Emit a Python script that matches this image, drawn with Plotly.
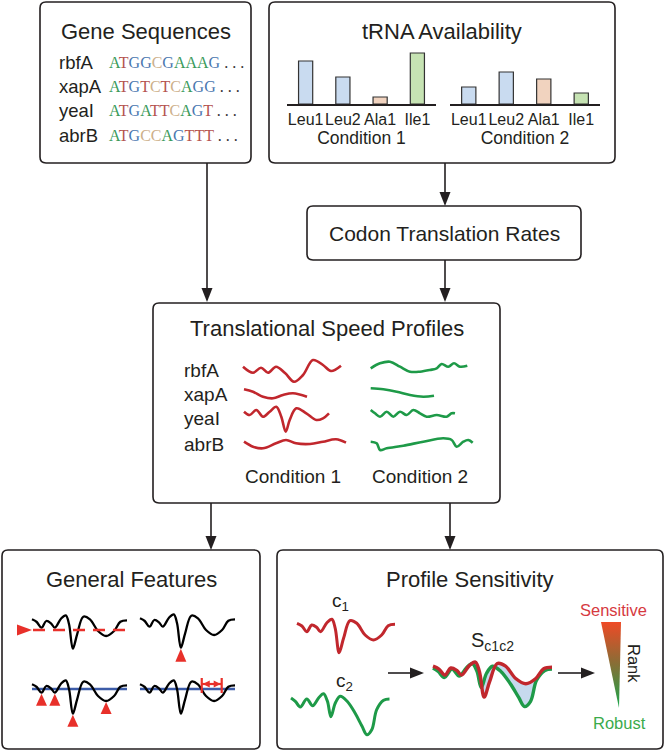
import plotly.graph_objects as go

W, H = 665, 752
INK = "#231f20"
RED = "#c1272d"
GREEN = "#1e9a48"
BLUE_LINE = "#3d5ca8"
MARK_RED = "#e8302a"
FILL_BLUE = "#c6d9ee"
SANS = "Liberation Sans, Arial, Helvetica, sans-serif"
SERIF = "Liberation Serif, Times New Roman, serif"

# ---------------- data ----------------
GENES = ["rbfA", "xapA", "yeaI", "abrB"]
SEQUENCES = ["ATGGCGAAAG", "ATGTCTCAGG", "ATGATTCAGT", "ATGCCAGTTT"]
BASE_COLORS = {"A": "#3a9a5b", "T": "#b5534f", "G": "#4b78b0", "C": "#cdb08a"}

TRNA_LABELS = ["Leu1", "Leu2", "Ala1", "Ile1"]
TRNA_COND1 = [43, 27, 7, 51]
TRNA_COND2 = [17, 32, 25, 11]
TRNA_COLORS = ["#c9dbf0", "#c9dbf0", "#f1d3bf", "#c6e3b3"]

# translational speed profiles (codon position, speed deviation), condition 1
RBFA_POS_1 = [0, 10, 18, 25, 33, 42, 51, 60, 70, 80, 88, 98]
RBFA_SPEED_1 = [3.3, -2.7, 2.3, -2.7, 3.3, -3, -11.7, -5, 10, 5, -1, 4.3]
XAPA_POS_1 = [1, 10, 20, 30, 40, 50, 64]
XAPA_SPEED_1 = [4.7, 2.3, -2.7, -4.3, -1, 0.7, -2.7]
YEAI_POS_1 = [1, 6.7, 13.3, 20, 26.7, 33.3, 38.3, 42.7, 46.7, 53.3, 63.3, 73.3, 80, 86]
YEAI_SPEED_1 = [6.3, 3, 8, 1.3, 6.3, 11.3, 1.3, -13.7, -2, 9.7, 4.7, -2, -0.3, 4.7]
ABRB_POS_1 = [1, 10, 20, 33, 43, 53, 67, 80, 93, 103]
ABRB_SPEED_1 = [2.3, -2.7, -4.3, 0.7, 4, 0.7, 0, 2.3, 4.7, 1.3]

# condition 2
RBFA_POS_2 = [0.7, 10, 20, 30, 40, 50, 60, 66.7, 71.7, 78.3, 84, 90, 97.3]
RBFA_SPEED_2 = [1.7, 6.7, 8.3, 3.3, -1.7, -1.7, 0, 1.7, 6, 3.3, 6.7, 3.3, 4.3]
XAPA_POS_2 = [0.7, 13.3, 26.7, 40, 53.3, 64]
XAPA_SPEED_2 = [5.7, 4.7, 2.3, -1, -2.7, -1.7]
YEAI_POS_2 = [0.7, 5, 10, 16.7, 23.3, 30, 36.7, 43.3, 50, 56.7, 66.7, 76.7, 81.7, 85]
YEAI_SPEED_2 = [8, 4.7, 1.3, 6.3, 1.3, 6.3, 3, 8, 4.7, 1.3, 3, 1.3, 4.7, 4.7]
ABRB_POS_2 = [0.7, 6.7, 10, 16.7, 33.3, 53.3, 73.3, 81.7, 86.7, 93.3, 98.3, 102.7]
ABRB_SPEED_2 = [2.3, 0.7, -6, -4.3, -1.7, 2.3, 5.7, 4, -2.7, 2.3, 4, 1.3]

# example profile under two conditions
C1_POS = [0, 5, 10, 15, 20, 24, 30.5, 35.6, 39, 43, 47.5, 54, 61, 69.5, 78, 86.4, 93, 100]
C1_SPEED = [1.7, -1, -6.7, 0, -2.3, -6.7, 2.3, 5.7, -3.3, -27.7, -13.3, 4.3, 1.7, -10, -15, -10, -0.7, 0.7]
C2_POS = [0, 4.4, 9.5, 16, 22, 28, 33, 37, 40.5, 45, 50, 57, 65, 72, 77, 82, 87, 94, 100]
C2_SPEED = [0, -3.3, -9, -1, -7.7, 0, 4.3, -3.3, -18.7, -5, 1.7, -3.3, -15, -28, -36.7, -31.7, -11.7, -2.3, -1]

# general features
GF_MEAN = -9
GF_THRESHOLD = -3
GF_INTERVAL = [65, 86]

RANK_COLORS = [[0, "#ef4a26"], [0.45, "#8f6b35"], [1, "#19a64a"]]


# ---------------- helpers ----------------
def place(pos, val, x0, y0, sx=1.0, sy=1.0):
    return [x0 + p * sx for p in pos], [y0 - v * sy for v in val]


def add_curve(fig, pos, val, x0, y0, color, width, sx=1.0, sy=1.0, **kw):
    xs, ys = place(pos, val, x0, y0, sx, sy)
    fig.add_trace(go.Scatter(
        x=xs, y=ys, mode="lines",
        line=dict(color=color, width=width, shape="spline", smoothing=1.0),
        hoverinfo="skip", showlegend=False, **kw,
    ))


def add_triangle(fig, x, y, w, h, direction, color):
    if direction == "up":
        xs, ys = [x, x - w / 2, x + w / 2, x], [y, y + h, y + h, y]
    elif direction == "right":
        xs, ys = [x, x - h, x - h, x], [y, y - w / 2, y + w / 2, y]
    else:
        xs, ys = [x, x + h, x + h, x], [y, y - w / 2, y + w / 2, y]
    fig.add_trace(go.Scatter(
        x=xs, y=ys, mode="lines", fill="toself", fillcolor=color,
        line=dict(width=0, color=color), hoverinfo="skip", showlegend=False,
    ))


def rounded_box(x0, y0, x1, y1, r=6):
    path = (
        f"M{x0 + r},{y0} L{x1 - r},{y0} Q{x1},{y0} {x1},{y0 + r} "
        f"L{x1},{y1 - r} Q{x1},{y1} {x1 - r},{y1} L{x0 + r},{y1} "
        f"Q{x0},{y1} {x0},{y1 - r} L{x0},{y0 + r} Q{x0},{y0} {x0 + r},{y0} Z"
    )
    return dict(type="path", path=path, xref="x", yref="y",
                line=dict(color=INK, width=1.6), layer="below")


def arrow_shapes(x0, y0, x1, y1, head_len=14, head_w=11):
    shapes = []
    if x0 == x1:
        sign = 1 if y1 > y0 else -1
        yb = y1 - sign * head_len
        shapes.append(dict(type="line", x0=x0, y0=y0, x1=x1, y1=yb, xref="x", yref="y",
                           line=dict(color=INK, width=1.6)))
        path = f"M{x1 - head_w / 2},{yb} L{x1 + head_w / 2},{yb} L{x1},{y1} Z"
    else:
        sign = 1 if x1 > x0 else -1
        xb = x1 - sign * head_len
        shapes.append(dict(type="line", x0=x0, y0=y0, x1=xb, y1=y1, xref="x", yref="y",
                           line=dict(color=INK, width=1.6)))
        path = f"M{xb},{y1 - head_w / 2} L{xb},{y1 + head_w / 2} L{x1},{y1} Z"
    shapes.append(dict(type="path", path=path, xref="x", yref="y",
                       fillcolor=INK, line=dict(color=INK, width=0)))
    return shapes


def text(x, y, s, size, color=INK, xanchor="center", family=SANS, **kw):
    return dict(x=x, y=y, xref="x", yref="y", text=s, showarrow=False,
                font=dict(family=family, size=size, color=color),
                xanchor=xanchor, yanchor="middle", **kw)


fig = go.Figure()
shapes = []
annotations = []

# ---------------- boxes and arrows ----------------
shapes += [
    rounded_box(40, 2, 251, 163),
    rounded_box(269, 2, 615, 163),
    rounded_box(307, 206, 581, 260),
    rounded_box(153, 303, 500, 503),
    rounded_box(2, 550, 260, 749),
    rounded_box(277, 550, 663, 749),
]
shapes += arrow_shapes(207, 163, 207, 302)
shapes += arrow_shapes(445, 163, 445, 206)
shapes += arrow_shapes(445, 260, 445, 302)
shapes += arrow_shapes(211, 503, 211, 550)
shapes += arrow_shapes(450, 503, 450, 550)
shapes += arrow_shapes(388, 673, 424, 673)
shapes += arrow_shapes(558, 673, 595, 673)

annotations += [
    text(146, 31, "Gene Sequences", 22),
    text(442, 31, "tRNA Availability", 22),
    text(444, 233, "Codon Translation Rates", 21),
    text(327, 328, "Translational Speed Profiles", 22),
    text(131, 579, "General Features", 22),
    text(470, 579, "Profile Sensitivity", 22),
]

# ---------------- gene sequences ----------------
seq_rows = [62, 86, 110, 135]
for gene, seq, y in zip(GENES, SEQUENCES, seq_rows):
    annotations.append(text(57, y, gene, 18.5, xanchor="left"))
    colored = "".join(f"<span style='color:{BASE_COLORS[b]}'>{b}</span>" for b in seq)
    annotations.append(text(107, y, colored + "<span style='color:#333'> . . .</span>",
                            16, xanchor="left", family=SERIF))

# ---------------- tRNA availability bars ----------------
def paper_y(py):
    return 1 - py / H


for cond, values, xa, ya, (px0, px1), title in [
    (1, TRNA_COND1, "x2", "y2", (287, 436), "Condition 1"),
    (2, TRNA_COND2, "x3", "y3", (450, 600), "Condition 2"),
]:
    fig.add_trace(go.Bar(
        x=TRNA_LABELS, y=values, width=0.38, xaxis=xa, yaxis=ya,
        marker=dict(color=TRNA_COLORS, line=dict(color="#333333", width=1.2)),
        hoverinfo="skip", showlegend=False,
    ))
    axis_common = dict(showline=True, linecolor=INK, linewidth=1.6, ticks="",
                       showgrid=False, zeroline=False, fixedrange=True, tickangle=0,
                       automargin=False,
                       tickfont=dict(family=SANS, size=16, color=INK),
                       range=[-0.5, 3.5],
                       title=dict(text=title, font=dict(family=SANS, size=17.5, color=INK), standoff=4))
    fig.layout[f"xaxis{cond + 1}"] = dict(domain=[px0 / W, px1 / W], anchor=ya, **axis_common)
    fig.layout[f"yaxis{cond + 1}"] = dict(domain=[paper_y(104), paper_y(44)], anchor=xa,
                                          range=[0, 60], visible=False, fixedrange=True)

# ---------------- translational speed profiles ----------------
speed_rows = [370, 394, 418, 444]
cond1 = [(RBFA_POS_1, RBFA_SPEED_1), (XAPA_POS_1, XAPA_SPEED_1),
         (YEAI_POS_1, YEAI_SPEED_1), (ABRB_POS_1, ABRB_SPEED_1)]
cond2 = [(RBFA_POS_2, RBFA_SPEED_2), (XAPA_POS_2, XAPA_SPEED_2),
         (YEAI_POS_2, YEAI_SPEED_2), (ABRB_POS_2, ABRB_SPEED_2)]
for gene, y, (p1, s1), (p2, s2) in zip(GENES, speed_rows, cond1, cond2):
    annotations.append(text(182, y, gene, 19, xanchor="left"))
    add_curve(fig, p1, s1, 243, y, RED, 2.6)
    add_curve(fig, p2, s2, 370, y, GREEN, 2.6)
annotations += [text(293, 476, "Condition 1", 19), text(420, 476, "Condition 2", 19)]

# ---------------- general features ----------------
gf_sx = 0.95
panels = [(32, 621), (140, 620), (32, 686), (140, 686)]
for x0, y0 in panels[:2]:
    add_curve(fig, C1_POS, C1_SPEED, x0, y0, "black", 2.3, sx=gf_sx)

# top-left: mean level
x0, y0 = panels[0]
mean_y = y0 - GF_MEAN
fig.add_trace(go.Scatter(x=[x0 + 1, x0 + 100 * gf_sx], y=[mean_y, mean_y], mode="lines",
                         line=dict(color=MARK_RED, width=2.5, dash="12px,8px"),
                         hoverinfo="skip", showlegend=False))
add_triangle(fig, x0, mean_y, 11, 15, "right", MARK_RED)

# minima of the profile
minima = [i for i in range(1, len(C1_SPEED) - 1)
          if C1_SPEED[i] < C1_SPEED[i - 1] and C1_SPEED[i] < C1_SPEED[i + 1]]
deepest = min(range(len(C1_SPEED)), key=lambda i: C1_SPEED[i])

# top-right: deepest trough
x0, y0 = panels[1]
mx, my = place([C1_POS[deepest]], [C1_SPEED[deepest]], x0, y0, gf_sx)
add_triangle(fig, mx[0], my[0] + 1, 11, 13, "up", MARK_RED)

# bottom-left: threshold and troughs
x0, y0 = panels[2]
th_y = y0 - GF_THRESHOLD
fig.add_trace(go.Scatter(x=[x0, x0 + 100 * gf_sx], y=[th_y, th_y], mode="lines",
                         line=dict(color=BLUE_LINE, width=2.6), hoverinfo="skip", showlegend=False))
add_curve(fig, C1_POS, C1_SPEED, x0, y0, "black", 2.3, sx=gf_sx)
for i in minima:
    mx, my = place([C1_POS[i]], [C1_SPEED[i]], x0, y0, gf_sx)
    add_triangle(fig, mx[0], my[0] + 1, 11, 12, "up", MARK_RED)

# bottom-right: threshold and trough width
x0, y0 = panels[3]
th_y = y0 - GF_THRESHOLD
fig.add_trace(go.Scatter(x=[x0, x0 + 100 * gf_sx], y=[th_y, th_y], mode="lines",
                         line=dict(color=BLUE_LINE, width=2.6), hoverinfo="skip", showlegend=False))
add_curve(fig, C1_POS, C1_SPEED, x0, y0, "black", 2.3, sx=gf_sx)
ix, _ = place(GF_INTERVAL, [0, 0], x0, y0, gf_sx)
for xi in ix:
    fig.add_trace(go.Scatter(x=[xi, xi], y=[th_y - 11, th_y + 4], mode="lines",
                             line=dict(color=MARK_RED, width=2.2), hoverinfo="skip", showlegend=False))
bar_y = th_y - 5
fig.add_trace(go.Scatter(x=ix, y=[bar_y, bar_y], mode="lines",
                         line=dict(color=MARK_RED, width=2.2), hoverinfo="skip", showlegend=False))
add_triangle(fig, ix[0] + 1, bar_y, 7, 7, "left", MARK_RED)
add_triangle(fig, ix[1] - 1, bar_y, 7, 7, "right", MARK_RED)

# ---------------- profile sensitivity ----------------
annotations += [
    text(340, 602, "c<sub>1</sub>", 19),
    text(344, 682, "c<sub>2</sub>", 19),
    text(492, 641, "S<sub>c1c2</sub>", 20),
]
add_curve(fig, C1_POS, C1_SPEED, 297, 625, RED, 3, sx=0.98)
add_curve(fig, C2_POS, C2_SPEED, 291, 698, GREEN, 3, sx=0.985)

# overlay with the area between the two profiles
ov_x, ov_y, ov_sx, ov_sy = 433, 668, 1.19, 1.05
add_curve(fig, C2_POS, C2_SPEED, ov_x, ov_y, "rgba(0,0,0,0)", 0, sx=ov_sx, sy=ov_sy)
add_curve(fig, C1_POS, C1_SPEED, ov_x, ov_y, "rgba(0,0,0,0)", 0, sx=ov_sx, sy=ov_sy,
          fill="tonexty", fillcolor=FILL_BLUE)
add_curve(fig, C2_POS, C2_SPEED, ov_x, ov_y, GREEN, 3.4, sx=ov_sx, sy=ov_sy)
add_curve(fig, C1_POS, C1_SPEED, ov_x, ov_y, RED, 3.4, sx=ov_sx, sy=ov_sy)

# rank wedge
wedge_top, wedge_tip = 622, 708
fig.add_trace(go.Scatter(
    x=[601, 621, 619, 601], y=[wedge_top, wedge_top, wedge_tip, wedge_top],
    mode="lines", fill="toself", line=dict(width=0),
    fillgradient=dict(type="vertical", colorscale=RANK_COLORS, start=wedge_top, stop=wedge_tip),
    hoverinfo="skip", showlegend=False,
))
annotations += [
    text(613, 610, "Sensitive", 16.5, color="#d6393f"),
    text(619, 723, "Robust", 16.5, color="#3bab4b"),
    text(634, 663, "Rank", 16.5, textangle=90),
]

fig.update_layout(
    width=W, height=H,
    margin=dict(l=0, r=0, t=0, b=0),
    paper_bgcolor="white", plot_bgcolor="white",
    xaxis=dict(range=[0, W], domain=[0, 1], visible=False, fixedrange=True),
    yaxis=dict(range=[H, 0], domain=[0, 1], visible=False, fixedrange=True),
    shapes=shapes,
    annotations=annotations,
    showlegend=False,
    font=dict(family=SANS, color=INK),
)

# the page body has a default margin; drop it so the figure fills the window
fig.write_html("out.html", config={"displayModeBar": False},
               post_script="document.body.style.margin='0';")
